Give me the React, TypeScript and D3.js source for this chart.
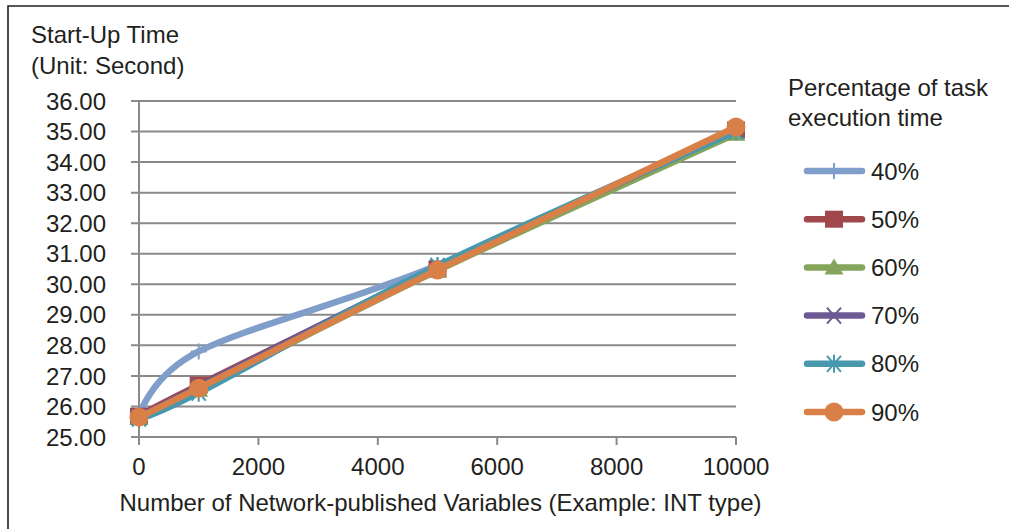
import React from "react";
import * as d3 from "d3";

const xValues = [0, 1000, 5000, 10000];
const seriesNames = ["40%", "50%", "60%", "70%", "80%", "90%"];
const s40 = [25.65, 27.8, 30.62, 35.1];
const s50 = [25.68, 26.7, 30.5, 35.05];
const s60 = [25.62, 26.55, 30.45, 34.93];
const s70 = [25.65, 26.65, 30.55, 35.05];
const s80 = [25.6, 26.45, 30.6, 35.0];
const s90 = [25.65, 26.6, 30.47, 35.15];
const seriesValues = [s40, s50, s60, s70, s80, s90];
const colors = ["#809ECA", "#A0484B", "#84A55B", "#6D5A94", "#4899AE", "#D98049"];
const markers = ["plus", "square", "triangle", "x", "star", "circle"];
const xTicks = [0, 2000, 4000, 6000, 8000, 10000];
const yTicks = [25, 26, 27, 28, 29, 30, 31, 32, 33, 34, 35, 36];

const FONT = "'Liberation Sans', Arial, sans-serif";
const FS = 24;

function Marker({ type, x, y, color }: { type: string; x: number; y: number; color: string }) {
  const h = 8;
  switch (type) {
    case "plus":
      return (
        <path d={`M${x},${y - h}V${y + h}M${x - h},${y}H${x + h}`} stroke={color} strokeWidth={2} fill="none" />
      );
    case "square":
      return <rect x={x - 9} y={y - 8.5} width={18} height={17} fill={color} />;
    case "triangle":
      return <path d={`M${x},${y - 9}L${x + 9.5},${y + 7}L${x - 9.5},${y + 7}Z`} fill={color} />;
    case "x":
      return (
        <path d={`M${x - 7},${y - 8}L${x + 7},${y + 8}M${x - 7},${y + 8}L${x + 7},${y - 8}`} stroke={color} strokeWidth={2} fill="none" />
      );
    case "star":
      return (
        <path
          d={`M${x - 7},${y - 8}L${x + 7},${y + 8}M${x - 7},${y + 8}L${x + 7},${y - 8}M${x},${y - 9}V${y + 9}`}
          stroke={color}
          strokeWidth={2}
          fill="none"
        />
      );
    default:
      return <circle cx={x} cy={y} r={9.5} fill={color} />;
  }
}

export default function App() {
  const W = 1009;
  const H = 529;
  const x = d3.scaleLinear().domain([0, 10000]).range([139, 736]);
  const y = d3.scaleLinear().domain([25, 36]).range([437, 101]);
  const line = d3
    .line<[number, number]>()
    .x((d) => x(d[0]))
    .y((d) => y(d[1]))
    .curve(d3.curveCatmullRom.alpha(0));

  const legendX0 = 807;
  const legendX1 = 862;
  const legendY = (i: number) => 171 + i * 48.2;

  return (
    <svg width={W} height={H} style={{ position: "absolute", left: 0, top: 0, background: "#fff" }} fontFamily={FONT}>
      <rect x={0} y={0} width={W} height={H} fill="#fff" />
      <path d={`M8,${H}V6H${W}`} stroke="#231f20" strokeWidth={1.6} fill="none" />

      {/* gridlines */}
      {yTicks.map((t) => (
        <line key={t} x1={131} x2={736} y1={y(t)} y2={y(t)} stroke="#8a8a8a" strokeWidth={2} />
      ))}
      <line x1={x(0)} x2={x(0)} y1={y(36)} y2={445} stroke="#8a8a8a" strokeWidth={2} />
      {xTicks.map((t) => (
        <line key={t} x1={x(t)} x2={x(t)} y1={y(25)} y2={445} stroke="#8a8a8a" strokeWidth={2} />
      ))}

      {/* y labels */}
      {yTicks.map((t) => (
        <text key={t} x={106} y={y(t)} dy="0.36em" textAnchor="end" fontSize={FS} fill="#231f20">
          {t.toFixed(2)}
        </text>
      ))}
      {/* x labels */}
      {xTicks.map((t) => (
        <text key={t} x={x(t)} y={475} textAnchor="middle" fontSize={FS} fill="#231f20">
          {t}
        </text>
      ))}

      <text x={31} y={43} fontSize={FS} fill="#231f20">Start-Up Time</text>
      <text x={31} y={74} fontSize={FS} fill="#231f20">(Unit: Second)</text>
      <text x={440.5} y={511} textAnchor="middle" fontSize={FS} fill="#231f20">
        Number of Network-published Variables (Example: INT type)
      </text>

      {/* series */}
      {seriesValues.map((vals, i) => {
        const pts = xValues.map((xv, j) => [xv, vals[j]] as [number, number]);
        return (
          <g key={seriesNames[i]}>
            <path d={line(pts) || ""} stroke={colors[i]} strokeWidth={6.5} fill="none" strokeLinecap="round" strokeLinejoin="round" />
            {pts.map((p, j) => (
              <Marker key={j} type={markers[i]} x={x(p[0])} y={y(p[1])} color={colors[i]} />
            ))}
          </g>
        );
      })}

      {/* legend */}
      <text x={788} y={96} fontSize={FS} fill="#231f20">Percentage of task</text>
      <text x={788} y={126} fontSize={FS} fill="#231f20">execution time</text>
      {seriesNames.map((n, i) => (
        <g key={n}>
          <line x1={legendX0} x2={legendX1} y1={legendY(i)} y2={legendY(i)} stroke={colors[i]} strokeWidth={6.5} strokeLinecap="round" />
          <Marker type={markers[i]} x={834} y={legendY(i)} color={colors[i]} />
          <text x={871} y={legendY(i)} dy="0.36em" fontSize={FS} fill="#231f20">
            {n}
          </text>
        </g>
      ))}
    </svg>
  );
}
